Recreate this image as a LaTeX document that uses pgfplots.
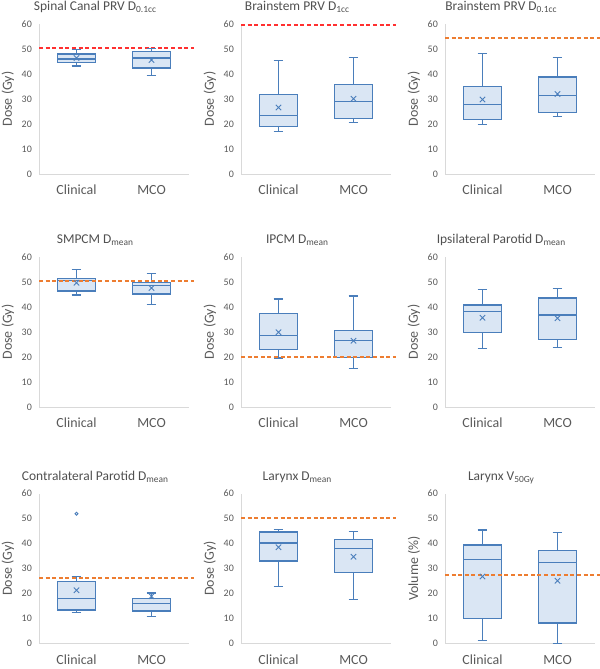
\documentclass[border=0pt]{standalone}
\usepackage{fontspec}
\setmainfont{Carlito}
\usepackage{pgfplots}
\pgfplotsset{compat=1.18}
\usepgfplotslibrary{statistics}
\definecolor{boxblue}{HTML}{4A7EBB}
\definecolor{boxfill}{HTML}{DAE6F4}
\definecolor{refred}{HTML}{FF3030}
\definecolor{reforange}{HTML}{ED7D31}
\definecolor{txtgray}{HTML}{595959}
\definecolor{ttlgray}{HTML}{505050}
\definecolor{axgray}{HTML}{D9D9D9}
\pgfplotsset{panel/.style={
  width=150bp, height=150bp, scale only axis, anchor=south west,
  xmin=-0.5, xmax=1.5, ymin=0, ymax=60,
  xtick={0,1}, xticklabels={Clinical,MCO},
  ytick={0,10,...,60},
  axis lines=left, axis line style={-, draw=axgray, line width=0.8bp},
  major tick length=0pt,
  /pgf/number format/assume math mode=true,
  yticklabel style={font=\fontsize{10}{11}\selectfont, text=txtgray, anchor=east, inner sep=0pt, xshift=-7bp},
  xticklabel style={font=\fontsize{14}{15}\selectfont, text=txtgray, anchor=base, yshift=-21bp},
  ylabel style={font=\fontsize{14}{15}\selectfont, text=txtgray, at={(axis description cs:-0.207,0.5)}, anchor=center},
  title style={font=\fontsize{13.5}{15}\selectfont, text=ttlgray, at={(axis description cs:0.375,1)}, anchor=base, yshift=7.5bp},
  ylabel={Dose (Gy)},
  clip=false,
  boxplot/draw direction=y,
  boxplot/box extend=0.5, boxplot/whisker extend=0.13,
}}
\newcommand{\bx}[6]{\addplot[boxplot prepared={draw position=#1, lower whisker=#2, lower quartile=#3, median=#4, upper quartile=#5, upper whisker=#6}, draw=boxblue, fill=boxfill, line width=1.2bp] coordinates {};}
\newcommand{\mn}[2]{\addplot[only marks, mark=x, mark size=3.8bp, boxblue, line width=1bp] coordinates {(0,#1) (1,#2)};}
\newcommand{\rf}[2]{\addplot[#1, line width=1.6bp, dash pattern=on 4bp off 2.6bp] coordinates {(-0.5,#2) (1.57,#2)};}
\begin{document}
\begin{tikzpicture}
\path[use as bounding box] (0,0) rectangle (600bp,669bp);
% Row 1
\begin{axis}[panel, at={(39bp,495bp)}, title={Spinal Canal PRV D\textsubscript{0.1cc}}]
\rf{refred}{50.3}
\bx{0}{43.2}{44.5}{46.0}{48.0}{49.7}
\bx{1}{39.4}{42.4}{46.4}{49.1}{50.1}
\mn{46.4}{45.6}
\end{axis}
\begin{axis}[panel, at={(241bp,495bp)}, title={Brainstem PRV D\textsubscript{1cc}}]
\rf{refred}{59.7}
\bx{0}{17.0}{18.9}{23.5}{31.8}{45.5}
\bx{1}{20.5}{22.1}{29.0}{35.7}{46.7}
\mn{26.6}{30.1}
\end{axis}
\begin{axis}[panel, at={(445bp,495bp)}, title={Brainstem PRV D\textsubscript{0.1cc}}]
\rf{reforange}{54.4}
\bx{0}{19.9}{21.9}{27.8}{35.0}{48.3}
\bx{1}{23.0}{24.5}{31.3}{38.8}{46.7}
\mn{29.8}{32.0}
\end{axis}
% Row 2
\begin{axis}[panel, at={(39bp,262bp)}, title={SMPCM D\textsubscript{mean}}]
\bx{0}{44.8}{46.4}{50.6}{51.3}{55.1}
\bx{1}{41.1}{45.2}{48.7}{49.7}{53.3}
\mn{49.7}{47.6}
\rf{reforange}{50.3}
\end{axis}
\begin{axis}[panel, at={(241bp,262bp)}, title={IPCM D\textsubscript{mean}}]
\bx{0}{19.6}{23.1}{28.7}{37.5}{43.2}
\bx{1}{15.5}{19.7}{26.5}{30.5}{44.4}
\mn{29.9}{26.5}
\rf{reforange}{20.0}
\end{axis}
\begin{axis}[panel, at={(445bp,262bp)}, title={Ipsilateral Parotid D\textsubscript{mean}}]
\bx{0}{23.4}{29.9}{38.2}{40.8}{46.9}
\bx{1}{23.8}{27.0}{36.8}{43.6}{47.4}
\mn{35.7}{35.5}
\end{axis}
% Row 3
\begin{axis}[panel, at={(39bp,25.5bp)}, title={Contralateral Parotid D\textsubscript{mean}}]
\bx{0}{12.5}{13.4}{17.9}{24.9}{26.9}
\bx{1}{10.8}{13.0}{16.1}{17.9}{20.2}
\mn{21.3}{18.9}
\addplot[only marks, mark=o, mark size=1.6bp, boxblue, line width=0.9bp] coordinates {(0,51.9)};
\rf{reforange}{26.2}
\end{axis}
\begin{axis}[panel, at={(241bp,25.5bp)}, title={Larynx D\textsubscript{mean}}]
\rf{reforange}{50.2}
\bx{0}{22.8}{33.0}{40.2}{44.6}{45.6}
\bx{1}{17.7}{28.3}{38.1}{41.5}{44.7}
\mn{38.5}{34.7}
\end{axis}
\begin{axis}[panel, at={(445bp,25.5bp)}, title={Larynx V\textsubscript{50Gy}}, ylabel={Volume (\%)}]
\bx{0}{1.1}{10.0}{33.7}{39.4}{45.4}
\bx{1}{0.1}{8.2}{32.3}{37.2}{44.3}
\mn{26.8}{25.1}
\rf{reforange}{27.4}
\end{axis}
\end{tikzpicture}
\end{document}
